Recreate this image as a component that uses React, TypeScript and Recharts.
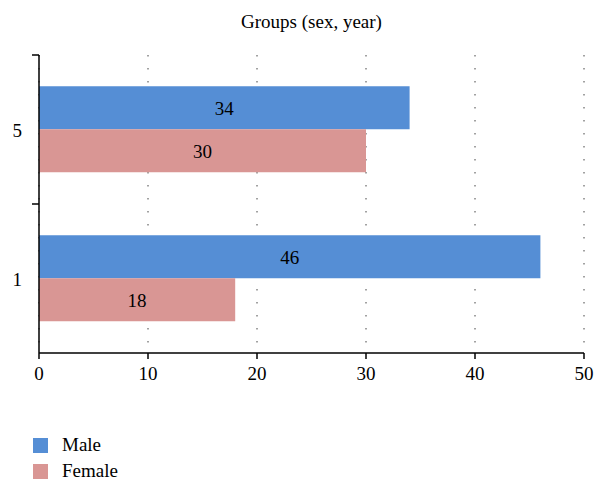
import React from "react";
import { BarChart, Bar, XAxis, YAxis, CartesianGrid, LabelList } from "recharts";

const groups = ["5", "1"];
const male = [34, 46];
const female = [30, 18];
const xTicks = [0, 10, 20, 30, 40, 50];

const data = groups.map((g, i) => ({ group: g, Male: male[i], Female: female[i] }));

const FONT = '"Liberation Serif", "DejaVu Serif", serif';
const BLUE = "#558ed5";
const PINK = "#d99694";

const W = 607;
const H = 492;
const X_AXIS_H = 30;
const margin = { top: 55, right: 23, bottom: 109, left: 0 };
const halfBand = (H - margin.top - margin.bottom - X_AXIS_H) / groups.length / 2;

// category tick: label at band centre, tick mark at band top edge
const GroupTick = (props: any) => {
    const { x, y, payload } = props;
    const axisX = x + 17;
    return (
        <g>
            <line x1={axisX - 7} x2={axisX} y1={y - halfBand} y2={y - halfBand} stroke="#000" strokeWidth={1.5} />
            <text x={x} y={y} dy={7} textAnchor="end" fontFamily={FONT} fontSize={19} fill="#000">
                {payload.value}
            </text>
        </g>
    );
};

const legendItems = [
    { name: "Male", color: BLUE },
    { name: "Female", color: PINK },
];

export default function App() {
    return (
        <div style={{ position: "absolute", left: 0, top: 0, width: W, height: H, background: "#fff" }}>
            <div
                style={{
                    position: "absolute",
                    left: 0,
                    width: 623,
                    top: 11,
                    textAlign: "center",
                    fontFamily: FONT,
                    fontSize: 19,
                    color: "#000",
                }}
            >
                Groups (sex, year)
            </div>
            <BarChart
                width={W}
                height={H}
                data={data}
                layout="vertical"
                margin={margin}
                barCategoryGap="21%"
                barGap={0}
            >
                <CartesianGrid horizontal={false} stroke="#444" strokeDasharray="1.5 11.5" />
                <XAxis
                    type="number"
                    domain={[0, 50]}
                    ticks={xTicks}
                    height={X_AXIS_H}
                    stroke="#000"
                    strokeWidth={1.5}
                    tickSize={6}
                    tickMargin={8}
                    tick={{ fill: "#000", fontFamily: FONT, fontSize: 19 }}
                />
                <YAxis
                    type="category"
                    dataKey="group"
                    width={39}
                    stroke="#000"
                    strokeWidth={1.5}
                    tickLine={false}
                    tickSize={7}
                    tickMargin={10}
                    tick={<GroupTick />}
                />
                <Bar dataKey="Male" fill={BLUE} isAnimationActive={false}>
                    <LabelList dataKey="Male" position="center" fill="#000" fontFamily={FONT} fontSize={19} />
                </Bar>
                <Bar dataKey="Female" fill={PINK} isAnimationActive={false}>
                    <LabelList dataKey="Female" position="center" fill="#000" fontFamily={FONT} fontSize={19} />
                </Bar>
            </BarChart>
            <div style={{ position: "absolute", left: 33, top: 432, fontFamily: FONT, fontSize: 19, color: "#000" }}>
                {legendItems.map((it) => (
                    <div key={it.name} style={{ display: "flex", alignItems: "center", height: 26 }}>
                        <span style={{ width: 15, height: 15, background: it.color, display: "inline-block", marginRight: 14 }} />
                        {it.name}
                    </div>
                ))}
            </div>
        </div>
    );
}
